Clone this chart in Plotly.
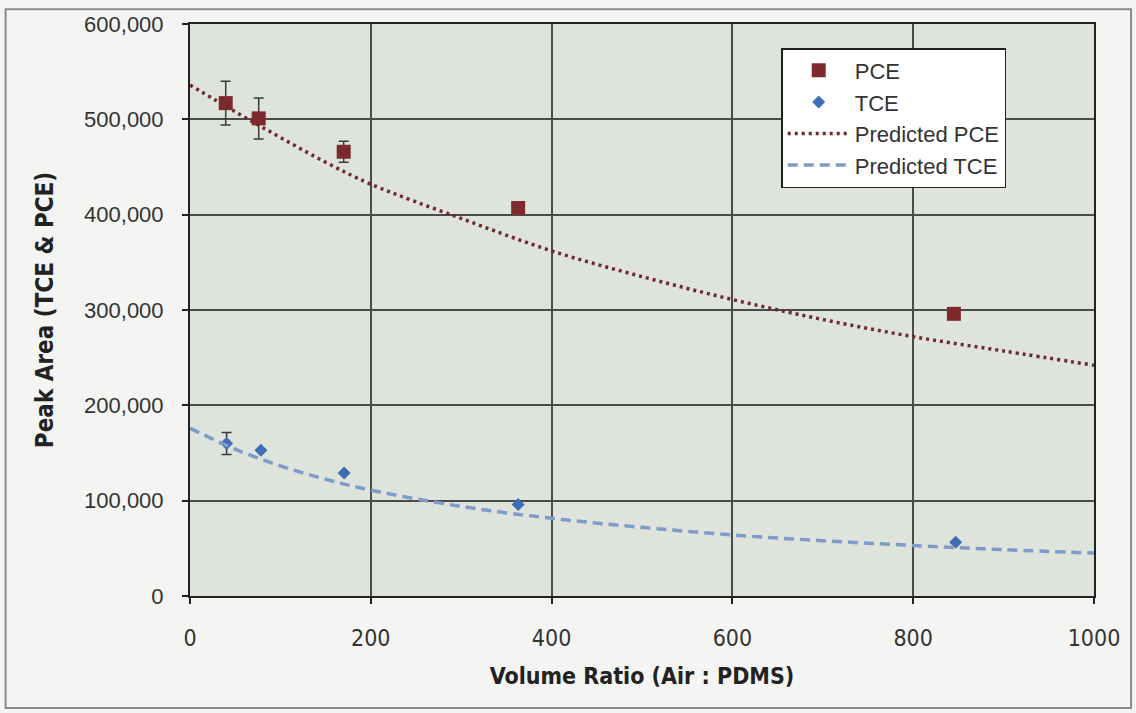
import plotly.graph_objects as go

# Measured data
pce_x = [39.5, 76, 170, 363, 845]
pce_y = [517000, 501000, 466000, 407000, 296000]
pce_err = [23000, 21500, 11000, 3000, 5000]

tce_x = [40.5, 78.5, 170.5, 363, 847]
tce_y = [160000, 153000, 129000, 96000, 56500]
tce_err = [11500, 0, 0, 0, 0]

# Predicted curves
pred_x = [0, 50, 100, 150, 200, 300, 400, 500, 600, 700, 800, 900, 1000]
pred_pce = [536000, 508000, 481000, 455000, 432000, 396000, 362000, 335000, 311000, 290000, 272000, 257000, 242000]
pred_tce = [176000, 154000, 136500, 122500, 111000, 94000, 81500, 72000, 64000, 58000, 53000, 48600, 45000]

x_ticks = [0, 200, 400, 600, 800, 1000]
y_ticks = [0, 100000, 200000, 300000, 400000, 500000, 600000]

NARROW = "DejaVu Sans Condensed, Liberation Sans Narrow, Liberation Sans, Arial, sans-serif"

fig = go.Figure()

fig.add_trace(go.Scatter(
    x=pce_x, y=pce_y, mode="markers", name="PCE",
    marker=dict(symbol="square", size=14, color="#7d2a2e"),
    error_y=dict(type="data", array=pce_err, visible=True, color="#3a3a3a", thickness=1.5, width=5),
))
fig.add_trace(go.Scatter(
    x=tce_x, y=tce_y, mode="markers", name="TCE",
    marker=dict(symbol="diamond", size=10, color="#3f6db3"),
    error_y=dict(type="data", array=tce_err, visible=True, color="#3a3a3a", thickness=1.5, width=5),
))
fig.add_trace(go.Scatter(
    x=pred_x, y=pred_pce, mode="lines", name="Predicted PCE",
    line=dict(color="#6e2a2a", width=3.5, dash="3px,4px", shape="spline"),
))
fig.add_trace(go.Scatter(
    x=pred_x, y=pred_tce, mode="lines", name="Predicted TCE",
    line=dict(color="#7f9cc8", width=3.5, dash="10px,6px", shape="spline"),
))

fig.update_layout(
    width=1136, height=713,
    margin=dict(l=190, r=42, t=20, b=117),
    paper_bgcolor="#f4f5f2",
    plot_bgcolor="#dee3dc",
    font=dict(family="Liberation Sans, Arial, sans-serif", color="#333333", size=18),
    showlegend=True,
    legend=dict(
        x=0.654, y=0.958, xanchor="left", yanchor="top",
        bgcolor="#ffffff", bordercolor="#222222", borderwidth=1.5,
        font=dict(size=22, color="#333333"),
        itemwidth=62,
        entrywidth=232, entrywidthmode="pixels",
    ),
    shapes=[dict(type="rect", xref="paper", yref="paper",
                 x0=-0.204, x1=1.041, y0=-0.196, y1=1.026,
                 line=dict(color="#8a8a8a", width=2), fillcolor="rgba(0,0,0,0)", layer="below")],
)

fig.update_xaxes(
    range=[0, 1000], tickvals=x_ticks, ticktext=[str(v) for v in x_ticks],
    showgrid=True, gridcolor="#4a4a4a", gridwidth=1.5,
    showline=True, linecolor="#222222", linewidth=2, mirror=True,
    ticks="outside", ticklen=6, tickcolor="#222222", tickwidth=2,
    ticklabelstandoff=14,
    tickfont=dict(size=23, color="#333333", family=NARROW),
    title=dict(text="<b>Volume Ratio (Air : PDMS)</b>", standoff=18,
               font=dict(size=23, color="#222222", family=NARROW)),
    zeroline=False,
)
fig.update_yaxes(
    range=[0, 600000], tickvals=y_ticks, tickformat=",d",
    showgrid=True, gridcolor="#4a4a4a", gridwidth=1.5,
    showline=True, linecolor="#222222", linewidth=2, mirror=True,
    ticks="outside", ticklen=6, tickcolor="#222222", tickwidth=2,
    ticklabelstandoff=14,
    tickfont=dict(size=22, color="#333333"),
    title=dict(text="<b>Peak Area (TCE & PCE)</b>", standoff=24,
               font=dict(size=24, color="#222222", family=NARROW)),
    zeroline=False,
)

fig.write_html("out.html")
